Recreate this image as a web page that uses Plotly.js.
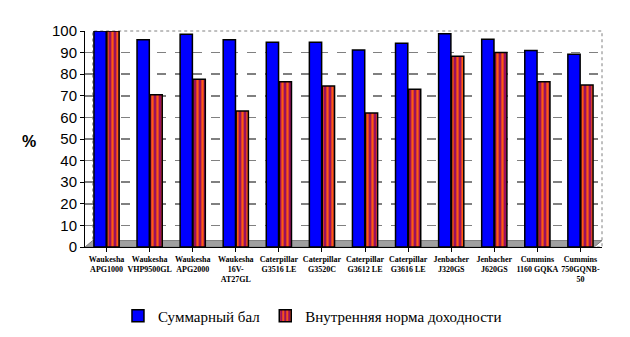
<!DOCTYPE html>
<html>
<head>
<meta charset="utf-8">
<script src="https://cdn.plot.ly/plotly-3.0.1.min.js"></script>
<style>html,body{margin:0;padding:0;background:#fff;}#chart{width:630px;height:337px;}</style>
</head>
<body>
<div id="chart"></div>
<script>
const categories = [
  "Waukesha<br>APG1000", "Waukesha<br>VHP9500GL", "Waukesha<br>APG2000", "Waukesha<br>16V-<br>AT27GL",
  "Caterpillar<br>G3516 LE", "Caterpillar<br>G3520C", "Caterpillar<br>G3612 LE", "Caterpillar<br>G3616 LE",
  "Jenbacher<br>J320GS", "Jenbacher<br>J620GS", "Cummins<br>1160 GQKA", "Cummins<br>750GQNB-<br>50"
];
const seriesNames = ["Суммарный бал", "Внутренняя норма доходности"];
const totalScore = [100, 96, 98.5, 96, 94.8, 94.8, 91.2, 94.3, 98.7, 96.2, 91, 89.2];
const irr = [100, 70.5, 77.7, 63, 76.5, 74.5, 62, 73, 88.3, 90, 76.5, 75];

const xIdx = categories.map((c, i) => i);
const traces = [
  {
    type: 'bar', name: seriesNames[0], x: xIdx, y: totalScore,
    marker: {color: '#0000ff', line: {color: '#000000', width: 1.5}}
  },
  {
    type: 'bar', name: seriesNames[1], x: xIdx, y: irr,
    marker: {color: '#b0104a', line: {color: '#000000', width: 1.5},
      pattern: {shape: '|', fgcolor: '#ff5a10', bgcolor: '#9a1060', size: 5, solidity: 0.45}}
  }
];

const layout = {
  width: 630, height: 337,
  margin: {l: 85, r: 28, t: 31, b: 90, autoexpand: false},
  paper_bgcolor: '#ffffff', plot_bgcolor: '#ffffff',
  barmode: 'group', bargap: 0.4, bargroupgap: 0.05,
  showlegend: true,
  legend: {orientation: 'h', x: 0.44, xanchor: 'center', yref: 'container', y: 0.062, yanchor: 'middle',
    font: {family: 'Liberation Serif, Times New Roman, serif', size: 15, color: '#000'},
    itemwidth: 30, tracegroupgap: 0},
  font: {family: 'Liberation Serif, Times New Roman, serif', color: '#000'},
  xaxis: {
    tickmode: 'array', tickvals: xIdx, ticktext: categories.map(c => '<b>' + c + '</b>'),
    range: [-0.5, 11.5], tickson: 'boundaries', ticks: 'outside', ticklen: 4, tickcolor: '#000',
    tickfont: {family: 'Liberation Serif, Times New Roman, serif', size: 8, color: '#000'},
    showline: true, linecolor: '#000', linewidth: 1, showgrid: false, tickangle: 0, automargin: false
  },
  yaxis: {
    range: [0, 100], dtick: 10, ticks: 'outside', ticklen: 4, tickcolor: '#000',
    tickfont: {family: 'Liberation Sans, Arial, sans-serif', size: 15, color: '#000'},
    showline: true, linecolor: '#000', linewidth: 1,
    showgrid: true, gridcolor: '#808080', griddash: 'dash', gridwidth: 1.5,
    zeroline: false, automargin: false,
    title: {text: ''}
  },
  shapes: [
    {type: 'rect', xref: 'paper', yref: 'paper', x0: 0.015, x1: 1.0, y0: 0.0, y1: 1.0,
     line: {color: '#808080', width: 1, dash: 'dot'}, layer: 'below'},
    {type: 'path', xref: 'paper', yref: 'paper',
     path: 'M 0 0 L 0.015 0.03 L 1.0 0.03 L 0.985 -0.0 Z',
     fillcolor: '#a0a0a0', line: {color: '#808080', width: 1}, layer: 'below'}
  ],
  annotations: [
    {text: '<b>%</b>', xref: 'paper', yref: 'paper', x: -0.125, y: 0.49, showarrow: false,
     font: {family: 'Liberation Sans, Arial, sans-serif', size: 16, color: '#000'}}
  ]
};

Plotly.newPlot('chart', traces, layout, {displayModeBar: false, staticPlot: true});
</script>
</body>
</html>
